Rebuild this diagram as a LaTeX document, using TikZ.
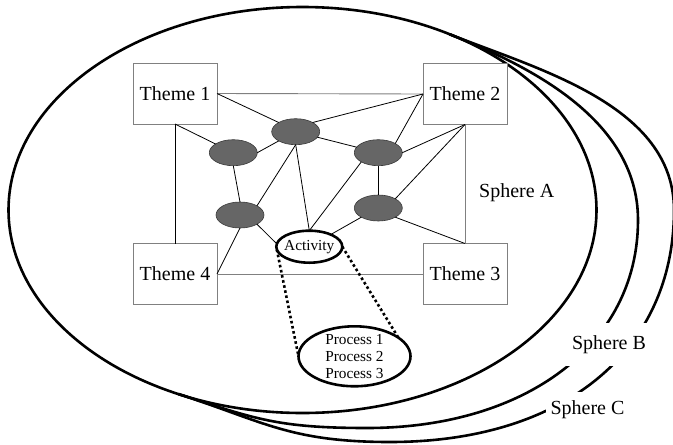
\documentclass[tikz,border=0pt]{standalone}
\usepackage{fontspec}
\setmainfont{Liberation Serif}
\usetikzlibrary{shapes.geometric}
\definecolor{blobgray}{HTML}{666666}
\definecolor{blobedge}{HTML}{3A3A3A}
\begin{document}
\begin{tikzpicture}[x=1pt,y=-1pt,
  every node/.style={inner sep=0pt, outer sep=0pt},
  ring/.style={line width=2.6pt},
  theme/.style={draw=gray, line width=0.9pt, fill=white,
    minimum width=84pt, minimum height=61pt, font=\fontsize{20}{24}\selectfont},
  blob/.style={ellipse, fill=blobgray, draw=blobedge, line width=0.6pt,
    minimum width=48pt, minimum height=26pt},
  edgeline/.style={line width=0.8pt},
  framelink/.style={draw=gray, line width=0.9pt},
  zoomdots/.style={line width=2.6pt, dash pattern=on 2.6pt off 2.6pt},
  ringlabel/.style={fill=white, font=\fontsize{20}{24}\selectfont},
  smalltext/.style={font=\fontsize{15.3}{17}\selectfont, align=center}
]
\useasboundingbox (0,0) rectangle (673,445);

% three nested spheres: A is a full ellipse, B and C share its upper-left arc
\draw[ring] (302.5,210) ellipse [x radius=294, y radius=203];
\coordinate (topjoin) at (449.5,34.2);
\coordinate (lowjoin) at (178.3,394);
\draw[ring] (topjoin) .. controls (523.8,63.9) and (638,117) .. (638,220)
  .. controls (638,345) and (525,428) .. (367,428)
  .. controls (277,428) and (254.5,418.6) .. (lowjoin);
\draw[ring] (topjoin) .. controls (537.8,69.4) and (674,105) .. (674,210)
  .. controls (674,350) and (565,442) .. (390,442)
  .. controls (290,442) and (264,421.6) .. (lowjoin);

% themes
\node[theme] (t1) at (175,93.5) {Theme 1};
\node[theme] (t2) at (465,94) {Theme 2};
\node[theme] (t3) at (465,274) {Theme 3};
\node[theme] (t4) at (175,274) {Theme 4};

% intermediate elements
\node[blob] (b1) at (233.3,152.7) {};
\node[blob] (b2) at (295.7,131.7) {};
\node[blob] (b3) at (378.3,152.7) {};
\node[blob] (b4) at (240,215) {};
\node[blob] (b5) at (378.3,208) {};

% activity and its processes
\node[ellipse, draw, line width=2.6pt, fill=white, minimum width=66pt, minimum height=32pt,
  label={[smalltext]center:Activity}] (act) at (309.3,246.7) {};
\node[ellipse, draw, line width=2.6pt, fill=white, minimum width=112pt, minimum height=60pt,
  label={[smalltext]center:Process 1\\Process 2\\Process 3}] (proc) at (354.5,356.3) {};

% frame between the themes
\draw[framelink] (t1.east) -- (t2.west);
\draw[framelink] (t4.east) -- (t3.west);
\draw[framelink] (t2.south) -- (t3.north);
\draw[edgeline] (t1.south) -- (t4.north);

% links
\draw[edgeline] (t1.east) -- (b2.north west);
\draw[edgeline] (t1.south) -- (b1);
\draw[edgeline] (b1.east) -- (b2.south west);
\draw[edgeline] (b1.south) -- (b4.north);
\draw[edgeline] (b2.north east) -- (t2.west);
\draw[edgeline] (b2) -- (b3);
\draw[edgeline] (b2.south) -- (b4.north east);
\draw[edgeline] (b2.south) -- (act.north);
\draw[edgeline] (b3.north east) -- (t2.west);
\draw[edgeline] (b3.east) -- (t2.south);
\draw[edgeline] (b3.south) -- (b5.north);
\draw[edgeline] (b3.south west) -- (act.north);
\draw[edgeline] (b5.north east) -- (t2.south);
\draw[edgeline] (b5.south east) -- (t3.north);
\draw[edgeline] (b5.south west) -- (act);
\draw[edgeline] (b4.south east) -- (act.175);
\draw[edgeline] (b4.south) -- (t4.east);

% zoom from activity to processes
\draw[zoomdots] (act.185) -- (proc.west);
\draw[zoomdots] (act.east) -- (proc.23);

% sphere names
\node[font=\fontsize{20}{24}\selectfont] (sa) at (516.7,193) {Sphere A};
\node[ringlabel, anchor=base, text height=26pt, text depth=17pt, inner xsep=6pt] (sb) at (609,349) {Sphere B};
\node[ringlabel, anchor=base, text height=22pt, text depth=11pt, inner xsep=5pt] (sc) at (587.5,414) {Sphere C};
\end{tikzpicture}
\end{document}
